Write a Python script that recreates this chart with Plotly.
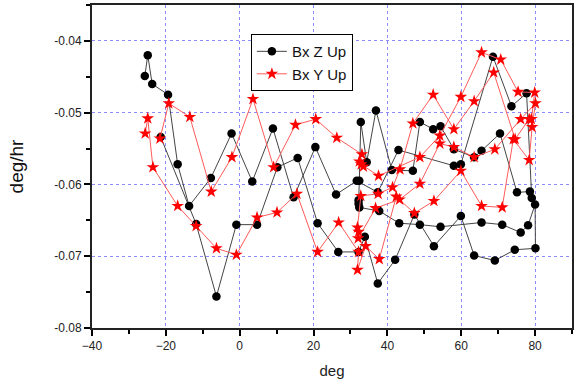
import plotly.graph_objects as go

# Bx Z Up (black circles), in acquisition order
z_deg = [-21.4, -11.8, -6.3, -0.9, 4.7, 10.2, 15.7, 21.1, 26.7, 32.2, 33.9, 37.4, 42.1, 47.3, 52.6, 59.9, 63.5, 69.1, 74.5, 80.1,
         80.0, 78.1, 76.1, 71.1, 65.5, 54.4, 48.8, 43.2, 37.8, 32.4, 32.2, 32.2,
         32.4, 32.8, 34.4, 36.9, 41.2, 46.9, 48.8, 52.4, 54.4, 58.0, 63.5, 65.5, 70.5, 75.1, 78.6, 79.1,
         77.7, 73.6, 68.6, 59.9, 58.0, 43.0, 37.4, 31.7, 26.1, 20.5, 14.6, 9.0, 3.4, -2.2, -7.8, -13.7, -16.8, -19.4, -23.7, -24.9, -25.7]
z_val = [-0.0534, -0.0655, -0.0756, -0.0656, -0.0656, -0.0576, -0.0563, -0.0654, -0.0694, -0.0694, -0.0673, -0.0738, -0.0705, -0.0642, -0.0686, -0.0644, -0.0699, -0.0706, -0.0691, -0.0689,
         -0.0628, -0.0657, -0.0667, -0.0656, -0.0653, -0.0659, -0.0656, -0.0654, -0.0637, -0.0632, -0.0627, -0.0622,
         -0.0595, -0.0513, -0.0569, -0.0497, -0.0580, -0.0581, -0.0513, -0.0523, -0.0519, -0.0551, -0.0562, -0.0553, -0.0529, -0.0611, -0.0610, -0.0619,
         -0.0473, -0.0491, -0.0422, -0.0572, -0.0574, -0.0552, -0.0611, -0.0595, -0.0614, -0.0548, -0.0618, -0.0522, -0.0596, -0.0529, -0.0591, -0.0630, -0.0572, -0.0475, -0.0460, -0.0420, -0.0449]

# Bx Y Up (red stars), in acquisition order
y_deg = [-25.6, -24.9, -23.5, -16.8, -11.8, -6.3, -0.9, 4.7, 10.1, 15.5, 21.1, 26.8, 32.2, 31.9, 34.1, 37.8, 42.4, 47.3, 52.6, 59.9, 65.5, 71.1, 74.1, 78.4, 79.2,
         80.1, 76.1, 69.1, 63.5, 58.0, 54.2, 48.8, 43.3, 36.8, 32.1, 32.2, 31.9,
         32.8, 37.5, 41.4, 43.4, 46.9, 52.4, 58.0, 63.5, 68.8, 74.6, 78.4, 79.0,
         79.9, 75.4, 70.7, 65.5, 59.9, 54.2, 48.8, 37.6, 33.5, 32.9, 32.4, 33.1, 26.3, 20.6, 15.1, 9.2, 3.6, -2.1, -7.7, -13.5, -19.2, -21.6]
y_val = [-0.0529, -0.0508, -0.0576, -0.0630, -0.0658, -0.0689, -0.0698, -0.0646, -0.0639, -0.0613, -0.0694, -0.0653, -0.0694, -0.0719, -0.0686, -0.0704, -0.0617, -0.0640, -0.0623, -0.0581, -0.0630, -0.0632, -0.0537, -0.0566, -0.0520,
         -0.0487, -0.0509, -0.0551, -0.0562, -0.0548, -0.0543, -0.0599, -0.0621, -0.0633, -0.0675, -0.0666, -0.0660,
         -0.0616, -0.0613, -0.0604, -0.0579, -0.0515, -0.0475, -0.0523, -0.0484, -0.0444, -0.0537, -0.0509, -0.0509,
         -0.0472, -0.0471, -0.0426, -0.0416, -0.0478, -0.0532, -0.0562, -0.0588, -0.0575, -0.0572, -0.0568, -0.0558, -0.0535, -0.0509, -0.0517, -0.0576, -0.0481, -0.0562, -0.0610, -0.0506, -0.0487, -0.0536]

x_ticks = [-40, -20, 0, 20, 40, 60, 80]
y_ticks = [-0.08, -0.07, -0.06, -0.05, -0.04]
y_tick_text = ["-0.08", "-0.07", "-0.06", "-0.05", "-0.04"]

fig = go.Figure()
fig.add_trace(go.Scatter(
    x=z_deg, y=z_val, mode="lines+markers", name="Bx Z Up",
    line=dict(color="#444444", width=1),
    marker=dict(symbol="circle", size=8.5, color="black"),
))
fig.add_trace(go.Scatter(
    x=y_deg, y=y_val, mode="lines+markers", name="Bx Y Up",
    line=dict(color="#ff5a5a", width=1),
    marker=dict(symbol="star", size=9.5, color="#ff0000"),
))

grid = dict(showgrid=True, gridcolor="#8c8cff", griddash="dot", gridwidth=1)
fig.update_xaxes(
    range=[-40, 90], tickvals=x_ticks, ticks="outside", ticklen=6, tickwidth=1.5, tickcolor="black",
    showline=True, linecolor="#222222", linewidth=2, mirror=True, zeroline=False, automargin=False,
    minor=dict(dtick=10, tick0=0, ticks="outside", ticklen=4, tickcolor="black", showgrid=False),
    tickfont=dict(size=12, color="#222222"),
    title=dict(text="deg", font=dict(size=15, color="#222222"), standoff=13),
    **grid,
)
fig.update_yaxes(
    range=[-0.08, -0.035], tickvals=y_ticks, ticktext=y_tick_text, ticks="outside", ticklen=6, tickwidth=1.5, tickcolor="black",
    showline=True, linecolor="#222222", linewidth=2, mirror=True, zeroline=False, automargin=False,
    minor=dict(dtick=0.005, tick0=-0.08, ticks="outside", ticklen=4, tickcolor="black", showgrid=False),
    tickfont=dict(size=12, color="#222222"),
    title=dict(text="deg/hr", font=dict(size=19, color="#111111"), standoff=26),
    **grid,
)
fig.update_layout(
    width=582, height=382,
    margin=dict(l=92, r=10, t=5, b=54, autoexpand=False),
    paper_bgcolor="white", plot_bgcolor="white",
    font=dict(family="Liberation Sans, Arial, sans-serif"),
    legend=dict(
        x=0.331, y=0.91, xanchor="left", yanchor="top",
        bgcolor="white", bordercolor="black", borderwidth=1,
        font=dict(size=15, color="#111111"), tracegroupgap=0,
        itemwidth=30,
    ),
)
fig.write_html("out.html", config={"displayModeBar": False},
               post_script="document.body.style.margin='0';document.body.style.overflow='hidden';")
